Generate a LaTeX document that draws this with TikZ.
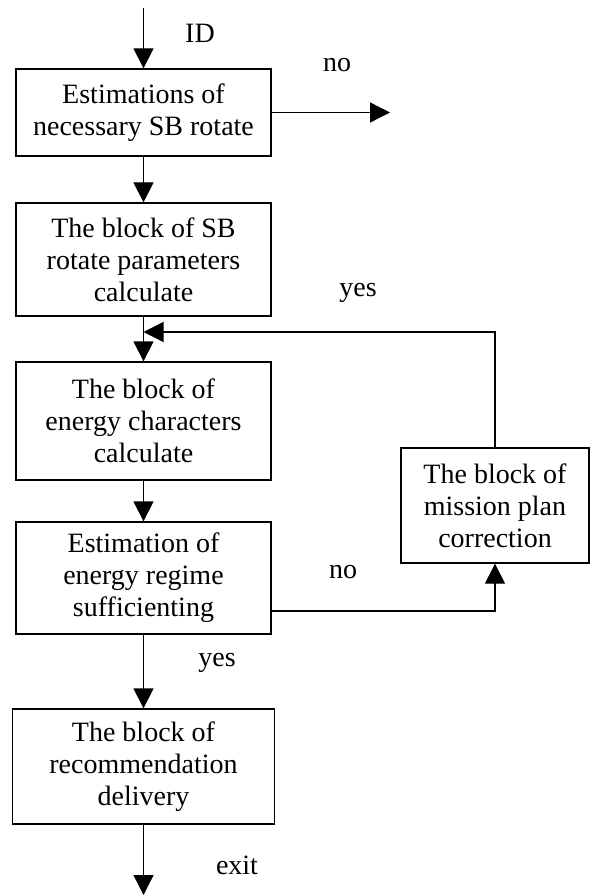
\documentclass[tikz,border=0pt]{standalone}
\usepackage{fontspec}
\setmainfont{Liberation Serif}
\usetikzlibrary{arrows.meta}

\begin{document}
\begin{tikzpicture}[x=1pt,y=-1pt,
    blockbox/.style={draw, line width=1.3pt, align=center, inner sep=0pt,
                     font=\fontsize{28}{32}\selectfont},
    flow/.style={line width=1.3pt, -{Triangle[length=20pt,width=20pt]}},
    lbl/.style={font=\fontsize{28}{32}\selectfont}]
    \useasboundingbox (0,0) rectangle (591,896);

    \node[blockbox, minimum width=255pt, minimum height=87pt] (estrot) at (143.5,112.5)
        {Estimations of\\necessary SB rotate};
    \node[blockbox, minimum width=255pt, minimum height=113pt] (rotpar) at (143.5,259.5)
        {The block of SB\\rotate parameters\\calculate};
    \node[blockbox, minimum width=255pt, minimum height=118pt] (energy) at (143.5,421)
        {The block of\\energy characters\\calculate};
    \node[blockbox, minimum width=255pt, minimum height=112pt] (suffic) at (143.5,578)
        {Estimation of\\energy regime\\sufficienting};
    \node[blockbox, minimum width=188pt, minimum height=115pt] (correct) at (495,505.5)
        {The block of\\mission plan\\correction};
    \node[blockbox, minimum width=262pt, minimum height=115pt] (deliver) at (143.5,766.5)
        {The block of\\recommendation\\delivery};

    \coordinate (idin) at (143.5,8); % input
    \coordinate (noout) at (390,112.5);
    \coordinate (loopin) at (143.5,332);
    \coordinate (nofrom) at (271,611);
    \coordinate (exitout) at (143.5,895);

    \draw[flow] (idin) -- (estrot);
    \draw[flow] (estrot) -- (noout);
    \draw[flow] (estrot) -- (rotpar);
    \draw[flow] (rotpar) -- (energy);
    \draw[flow] (correct.north) |- (loopin); % back to the loop
    \draw[flow] (energy) -- (suffic);
    \draw[flow] (nofrom) -| (correct.south);
    \draw[flow] (suffic) -- (deliver);
    \draw[flow] (deliver) -- (exitout);

    \node[lbl] (idlbl) at (200,33) {ID};
    \node[lbl] (nolbla) at (337,65) {no};
    \node[lbl] (yeslbla) at (358,293) {yes};
    \node[lbl] (nolblb) at (343,572) {no};
    \node[lbl] (yeslblb) at (217,663) {yes};
    \node[lbl] (exitlbl) at (237,865) {exit};
\end{tikzpicture}
\end{document}
